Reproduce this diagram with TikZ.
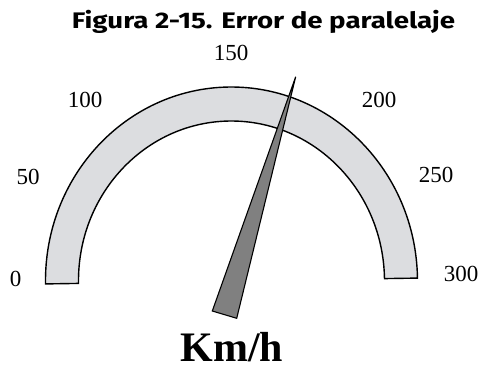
\documentclass[tikz,border=0pt]{standalone}
\usepackage{fontspec}
\setmainfont{Liberation Serif}
\newfontfamily\titlefont{Fira Sans}
\usepackage{tikz}
\usetikzlibrary{positioning,calc}
\usepackage{xcolor}
\definecolor{bandcol}{RGB}{220,221,224}
\definecolor{needlecol}{RGB}{128,128,128}
\tikzset{
  % scale label
  scalelbl/.style={inner sep=0pt, font=\fontsize{23}{23}\selectfont},
  % dial band
  dialband/.style={draw=black, line width=1.4pt, fill=bandcol, line join=miter},
  % pointer
  pointer/.style={draw=black, line width=1.1pt, fill=needlecol, line join=miter},
  % figure caption
  figtitle/.style={inner sep=0pt, font=\titlefont\bfseries\fontsize{22.5}{22.5}\selectfont},
  % unit text
  unitlbl/.style={inner sep=0pt, font=\bfseries\fontsize{42}{42}\selectfont},
}
\begin{document}
\begin{tikzpicture}[x=1pt,y=1pt]
  \useasboundingbox (0,0) rectangle (480,368);
  \coordinate (c) at (231.5,87);
  % band
  \begin{scope}[rotate around={0.9:(c)}]
    \draw[dialband] ($(c)+(-186,0)$) arc[start angle=180, end angle=0, x radius=186, y radius=194]
      -- ($(c)+(153,0)$) arc[start angle=0, end angle=180, x radius=153, y radius=160] -- cycle;
  \end{scope}
  % needle
  \coordinate (tip) at (295.7,291.3);
  \coordinate (bl) at (212.3,57);
  \coordinate (br) at (236.7,49.7);
  \draw[pointer] (tip) -- (bl) -- (br) -- cycle;
  % scale numbers
  \node[scalelbl] (v0) at (15.5,89.5) {0};
  \node[scalelbl] (v50) at (28,191) {50};
  \node[scalelbl] (v100) at (85,268) {100};
  \node[scalelbl] (v150) at (231,315.5) {150};
  \node[scalelbl] (v200) at (379,268) {200};
  \node[scalelbl] (v250) at (436,193) {250};
  \node[scalelbl] (v300) at (461,94.5) {300};
  % texts
  \node[figtitle, anchor=base] (title) at (263.5,339.7) {\scalebox{1.23}[1]{Figura 2-15. Error de paralelaje}};
  \node[unitlbl, anchor=base] (unit) at (232,7) {Km/h};
\end{tikzpicture}
\end{document}
